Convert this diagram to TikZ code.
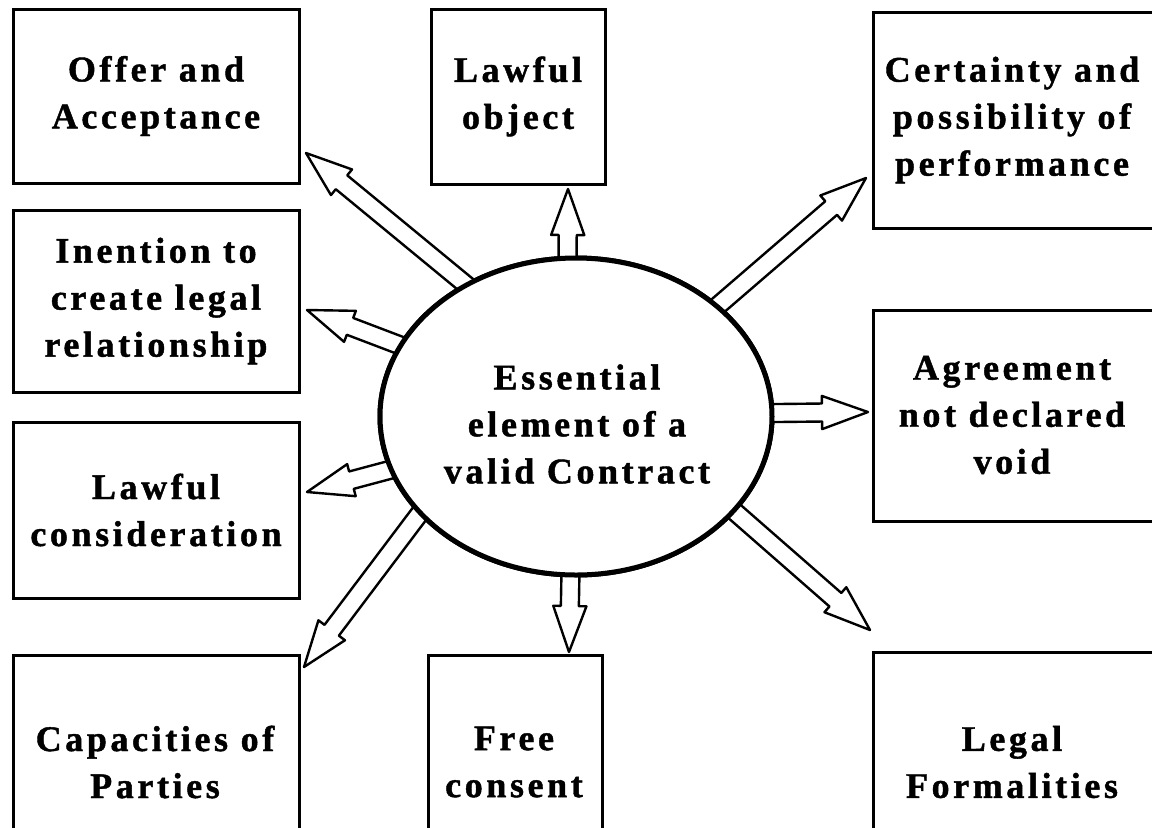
\documentclass[tikz,border=0pt]{standalone}
\usepackage{fontspec}
\setmainfont{Liberation Serif}
\newfontfamily\labelfont{Liberation Serif Bold}[LetterSpace=10, FakeBold=1.2]
\usetikzlibrary{calc,shapes.geometric}

\newcommand{\boxfont}{\labelfont\fontsize{18}{23.5}\selectfont}
\newcommand{\shaftw}{4.5pt}
\newcommand{\headw}{8.3pt}
\newcommand{\headlen}{23pt}

% Hollow block arrow from a start point #1 to a tip point #2
\newcommand{\blkarrow}[2]{%
  \coordinate (ba-s) at ($(#1)!-8pt!(#2)$);
  \coordinate (ba-h) at ($(#2)!\headlen!(#1)$);
  \draw[arrowbody]
    ($(ba-s)!\shaftw!90:(#2)$) --
    ($(ba-h)!\shaftw!-90:(ba-s)$) --
    ($(ba-h)!\headw!-90:(ba-s)$) --
    (#2) --
    ($(ba-h)!\headw!90:(ba-s)$) --
    ($(ba-h)!\shaftw!90:(ba-s)$) --
    ($(ba-s)!\shaftw!-90:(#2)$) -- cycle;
}

\tikzset{
  box/.style={draw, line width=1.5pt, rectangle, inner sep=0pt, align=center, font=\boxfont},
  boxtext/.style={align=center, font=\boxfont, inner sep=0pt},
  arrowbody/.style={draw, fill=white, line width=1.2pt, line join=round},
  hub/.style={draw, ellipse, line width=2.5pt, fill=white, inner sep=0pt,
              minimum width=196pt, minimum height=158.5pt}
}

\begin{document}
\begin{tikzpicture}[x=0.5pt, y=-0.5pt]
  \useasboundingbox (0,0) rectangle (1152,827);
  \clip (0,0) rectangle (1152,827);
  \fill[white] (0,0) rectangle (1152,827);

  % central hub (placed first so arrows can refer to its border)
  \node[hub] (hub) at (576,416.5) {};

  % arrow tips
  \coordinate (tip-offer) at (306,153);
  \coordinate (tip-obj)   at (568,189);
  \coordinate (tip-cert)  at (866,178);
  \coordinate (tip-agree) at (868,412);
  \coordinate (tip-legal) at (870,630);
  \coordinate (tip-free)  at (569,652);
  \coordinate (tip-cap)   at (304,667);
  \coordinate (tip-cons)  at (307,492);
  \coordinate (tip-int)   at (307,310);

  \blkarrow{hub.130.6}{tip-offer}
  \blkarrow{hub.93}{tip-obj}
  \blkarrow{hub.38.4}{tip-cert}
  \blkarrow{hub.1.3}{tip-agree}
  \blkarrow{hub.-31.7}{tip-legal}
  \blkarrow{hub.-92.5}{tip-free}
  \blkarrow{hub.212.7}{tip-cap}
  \blkarrow{hub.196.7}{tip-cons}
  \blkarrow{hub.158.7}{tip-int}

  % redraw the hub on top of the arrow bases
  \node[hub] (hub-top) at (576,416.5) {};
  \node[boxtext] (hub-t) at (577,424) {Essential\\element of a\\valid Contract};

  % element boxes
  \node[box, minimum width=143pt, minimum height=87pt] (offer) at (156,96)
    {Offer and\\Acceptance};
  \node[box, minimum width=87pt, minimum height=87.5pt] (obj) at (518,96.5)
    {Lawful\\object};
  \node[box, minimum width=151pt, minimum height=108pt] (cert) at (1024,120) {};
  \node[boxtext] (cert-t) at (1012,120) {Certainty and\\possibility of\\performance};

  \node[box, minimum width=143pt, minimum height=91pt] (int) at (156,301)
    {Inention to\\create legal\\relationship};
  \node[box, minimum width=151pt, minimum height=105.5pt] (agree) at (1024,415.5) {};
  \node[boxtext] (agree-t) at (1012,415) {Agreement\\not declared\\void};

  \node[box, minimum width=143pt, minimum height=88pt] (cons) at (156,510)
    {Lawful\\consideration};

  \node[box, minimum width=143pt, minimum height=102.5pt] (cap) at (156,757.5) {};
  \node[boxtext] (cap-t) at (155,762) {Capacities of\\Parties};
  \node[box, minimum width=87pt, minimum height=102.5pt] (free) at (515,757.5) {};
  \node[boxtext] (free-t) at (514,762) {Free\\consent};
  \node[box, minimum width=151pt, minimum height=104pt] (legal) at (1024,756) {};
  \node[boxtext] (legal-t) at (1012,762) {Legal\\Formalities};
\end{tikzpicture}
\end{document}
